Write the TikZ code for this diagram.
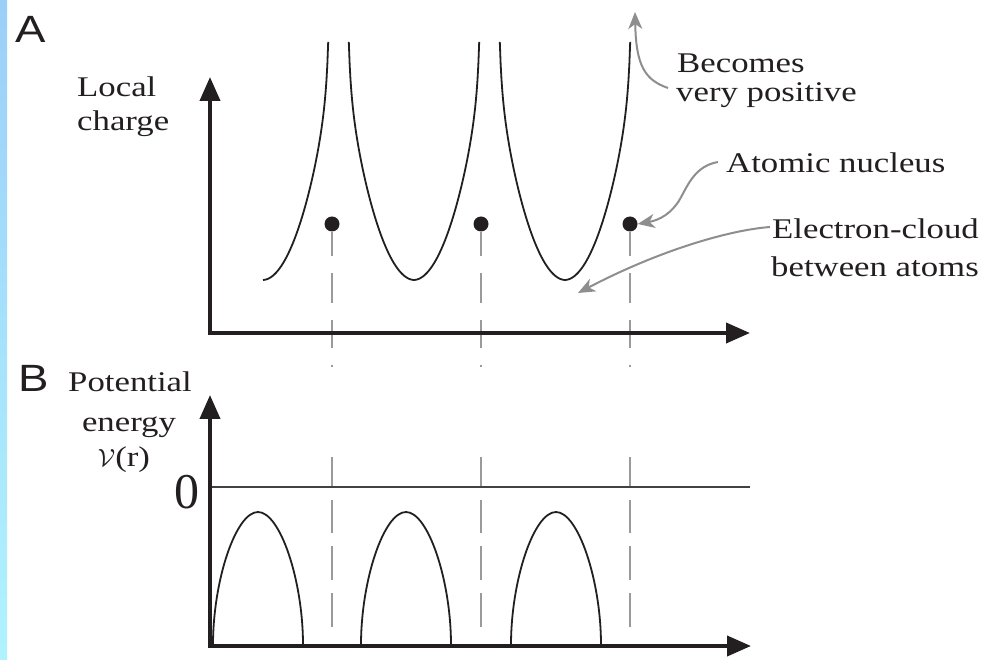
\documentclass[tikz,border=0pt]{standalone}
\usepackage{fontspec}
\setmainfont{Liberation Serif}
\newfontfamily\lblfont[FakeStretch=1.22]{Liberation Serif}
\newfontfamily\panelfont[FakeStretch=1.2]{Liberation Sans}
\usetikzlibrary{arrows.meta}
\definecolor{ink}{HTML}{231F20}
\definecolor{pointer}{HTML}{8E8E8E}
\definecolor{guidegray}{HTML}{9A9A9A}
\definecolor{stripA}{HTML}{9CCFF8}
\definecolor{stripB}{HTML}{B0F3FE}
\tikzset{
  lbl/.style={font=\lblfont\fontsize{28.5}{34}\selectfont, text=ink, inner sep=0pt, anchor=base west},
  panel/.style={font=\panelfont\fontsize{38}{40}\selectfont, text=ink, inner sep=0pt, anchor=base west},
  axisline/.style={line width=4pt, draw=ink, line join=miter,
    {Triangle[length=24pt,width=20pt]}-{Triangle[length=24pt,width=20pt]}},
  curve/.style={line width=1.8pt, draw=ink},
  zeroline/.style={line width=1.5pt, draw=ink!85},
  guide/.style={line width=1.4pt, draw=guidegray},
  pointerarrow/.style={line width=2pt, draw=pointer, -{Stealth[length=17pt,width=14pt,inset=5pt]}},
  nucleus/.style={circle, fill=ink, minimum size=15pt, inner sep=0pt},
}
\begin{document}
\begin{tikzpicture}[x=1pt,y=-1pt]
\fill[white] (0,0) rectangle (997,660);
\shade[top color=stripA, bottom color=stripB] (0,0) rectangle (7,660);
\path[use as bounding box] (0,0) rectangle (997,660);

% labels
\node[panel] (labA) at (15,43) {A};
\node[panel] (labB) at (18,392) {B};
\node[lbl] (local) at (77,97) {Local};
\node[lbl] (charge) at (77,131) {charge};
\node[lbl] (becomes) at (677,73) {Becomes};
\node[lbl] (verypos) at (676,102) {very positive};
\node[lbl] (atomic) at (726,173) {Atomic nucleus};
\node[lbl] (electron) at (772,239) {Electron-cloud};
\node[lbl] (between) at (771,277) {between atoms};
\node[lbl, anchor=base] (potential) at (130,392) {Potential};
\node[lbl, anchor=base] (energy) at (129,432) {energy};
\node[lbl, anchor=base] (vr) at (124,467) {$\mathcal{V}$(r)};
\node[font=\fontsize{50}{50}\selectfont, text=ink, inner sep=0pt, anchor=base] (zero) at (187,508) {0};

% panel A charge curves
\draw[curve] plot[domain=0:65.2, samples=80, variable=\u]
  ({263+\u}, {280-(0.03847*\u*\u+217.8*(1/(68-abs(\u))-1/68))});
\foreach \c in {414,565}
  \draw[curve] plot[domain=-65.2:65.2, samples=160, variable=\u]
    ({\c+\u}, {280-(0.03847*\u*\u+217.8*(1/(68-abs(\u))-1/68))});

% nuclei
\node[nucleus] (n1) at (332,224) {};
\node[nucleus] (n2) at (481,224) {};
\node[nucleus] (n3) at (630,224) {};

% guide lines
\foreach \i/\x in {1/332,2/481,3/630} {
  \draw[guide] (n\i.south) -- (\x,256);
  \draw[guide] (\x,273) -- (\x,303);
  \draw[guide] (\x,320) -- (\x,348);
  \draw[guide] (\x,365) -- (\x,367);
  \draw[guide] (\x,457) -- (\x,487);
  \draw[guide] (\x,500) -- (\x,533);
  \draw[guide] (\x,546) -- (\x,580);
  \draw[guide] (\x,593) -- (\x,627);
}

% panel B zero line and arches
\draw[zeroline] (210,487) -- (750,487);
\foreach \c in {258,406,556} {
  \begin{scope}[shift={(\c,0)}]
    \draw[curve] (-45,645) .. controls (-45,580) and (-22,512) .. (0,512)
                 .. controls (22,512) and (45,580) .. (45,645);
  \end{scope}
}

% axes
\draw[axisline] (210,77) -- (210,333) -- (750,333);
\draw[axisline] (210,395) -- (210,646) -- (751,646);

% pointer arrows
\coordinate (bp) at (668,88);
\coordinate (bptip) at (635,12);
\draw[pointerarrow] (bp) .. controls (645,80) and (636,66) .. (bptip);
\coordinate (ap) at (718,162);
\draw[pointerarrow] (ap) .. controls (695,166) and (688,185) .. (680,199) .. controls (672,213) and (660,220) .. (n3.east);
\coordinate (ep) at (770,227);
\coordinate (eptip) at (578,293);
\draw[pointerarrow] (ep) .. controls (730,230) and (660,250) .. (eptip);
\end{tikzpicture}
\end{document}
